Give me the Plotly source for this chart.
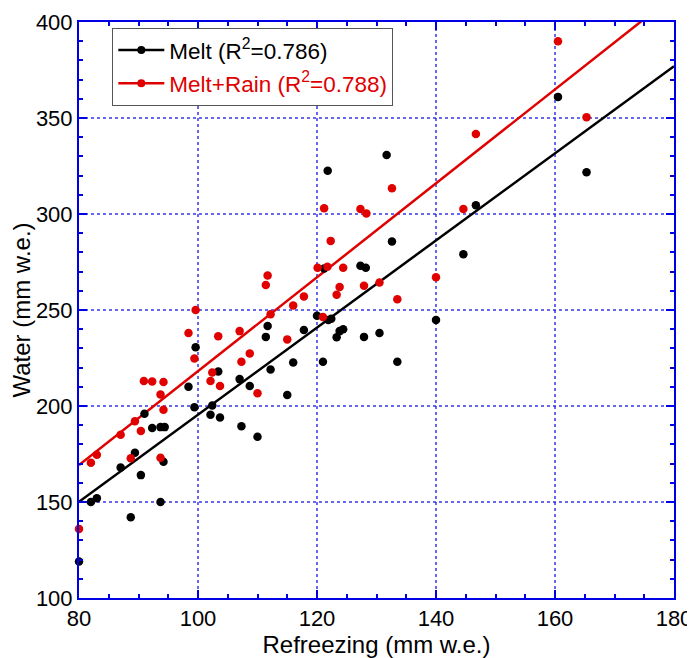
import plotly.graph_objects as go

# Melt (black) points: refreezing (x), water (y)
melt_x = [80, 82, 83, 87, 88.7, 89.4, 90.4, 91, 92.3, 93.7, 94.4, 93.7, 94.2,
          98.4, 99.4, 99.6, 102.1, 102.4, 103.4, 103.7, 107.3, 107, 108.7, 110,
          111.4, 111.7, 112.2, 115, 116, 117.8, 120, 121, 121.9, 122.4, 123.3,
          123.8, 124.4, 127.9, 130.5, 133.5, 140, 121.8, 121.2, 127.3, 128.2,
          131.7, 132.6, 146.7, 144.6, 160.5, 165.3]
melt_y = [119, 150, 152, 168, 142, 175.6, 164, 196, 188.5, 189, 189, 150, 171,
          210, 199.4, 230.6, 195.5, 200.3, 218, 194, 189.5, 214, 210.4, 184,
          236, 241.7, 219, 205.7, 222.6, 239.6, 247, 223, 244.8, 245.5, 235.8,
          239, 240, 236, 238, 223, 244.8, 322.5, 271.6, 273, 272,
          330.7, 285.7, 304.6, 279, 361, 321.8]

# Melt+Rain (red) points
rain_x = [80, 82, 83, 87, 88.7, 89.4, 90.4, 90.9, 92.3, 93.7, 94.2, 94.2, 93.7,
          98.4, 99.6, 99.4, 102.1, 102.4, 103.4, 103.7, 107, 107.3, 108.7, 110,
          112.2, 115, 116, 121, 111.7, 111.4, 117.8, 120.1, 121.75, 121.2, 122.3,
          124.4, 123.8, 123.3, 127.3, 128.3, 127.9, 130.5, 132.6, 133.5, 140,
          144.6, 146.7, 160.5, 165.3]
rain_y = [136, 170.4, 174.6, 185, 172.8, 192, 187, 213, 212.8, 206, 212.5, 198, 173,
          238, 250, 224.7, 213, 217.4, 236.3, 210.4, 239, 223, 227.3, 206.6,
          247.8, 234.7, 252.4, 246.4, 268, 263, 257, 272, 272.5, 303, 286,
          272, 262, 258, 302.6, 300.3, 262.6, 264.3, 313.4, 255.6, 267,
          302.6, 341.7, 390, 350.4]

# Fitted lines (value at x=80 and at x=180)
fit_x = [80, 180]
melt_fit_y = [150.1, 377.0]
rain_fit_y = [169.2, 413.8]

melt_name = "Melt (R<sup>2</sup>=0.786)"
rain_name = "<span style='color:#e00000'>Melt+Rain (R<sup>2</sup>=0.788)</span>"

BLACK = "#000000"
RED = "#e00000"
BLUE = "#0000e6"
FONT = "Liberation Sans, Arial, Helvetica, sans-serif"

fig = go.Figure()
fig.add_trace(go.Scatter(x=fit_x, y=melt_fit_y, mode="lines",
                         line=dict(color=BLACK, width=2.5), showlegend=False, cliponaxis=True))
fig.add_trace(go.Scatter(x=fit_x, y=rain_fit_y, mode="lines",
                         line=dict(color=RED, width=2.5), showlegend=False, cliponaxis=True))
fig.add_trace(go.Scatter(x=melt_x, y=melt_y, mode="markers",
                         marker=dict(color=BLACK, size=8.5), showlegend=False, cliponaxis=False))
fig.add_trace(go.Scatter(x=rain_x, y=rain_y, mode="markers",
                         marker=dict(color=RED, size=8.5), showlegend=False, cliponaxis=False))
# legend entries
fig.add_trace(go.Scatter(x=[None], y=[None], mode="lines+markers", name=melt_name,
                         legendgroup="a",
                         line=dict(color=BLACK, width=2.5), marker=dict(color=BLACK, size=8)))
fig.add_trace(go.Scatter(x=[None], y=[None], mode="lines+markers", name=rain_name,
                         legendgroup="b",
                         line=dict(color=RED, width=2.5), marker=dict(color=RED, size=8)))

axis_common = dict(
    showline=True, linecolor=BLUE, linewidth=2, mirror="ticks",
    ticks="inside", ticklen=8, tickwidth=2, tickcolor=BLUE, automargin=False,
    showgrid=True, gridcolor="rgba(40,40,230,0.7)", gridwidth=1.5, griddash="dot",
    zeroline=False, tickfont=dict(size=22, color="black", family=FONT),
)

fig.update_xaxes(range=[80, 180], dtick=20, tick0=80,
                 minor=dict(ticks="inside", ticklen=4, tickwidth=2, tickcolor=BLUE,
                            dtick=5, showgrid=False),
                 title=dict(text="Refreezing (mm w.e.)", font=dict(size=24, family=FONT, color="black"),
                            standoff=2),
                 **axis_common)
fig.update_yaxes(range=[100, 400], dtick=50, tick0=100,
                 minor=dict(ticks="inside", ticklen=4, tickwidth=2, tickcolor=BLUE,
                            dtick=10, showgrid=False),
                 title=dict(text="Water (mm w.e.)", font=dict(size=24, family=FONT, color="black"),
                            standoff=4),
                 **axis_common)

# the page body has an 8px margin, so the figure is 8px smaller and shifted
fig.update_layout(
    width=687, height=650,
    margin=dict(l=71, r=21, t=14, b=60),
    paper_bgcolor="white", plot_bgcolor="white",
    font=dict(family=FONT, color="black"),
    legend=dict(x=0.056, y=0.99, xanchor="left", yanchor="top",
                bgcolor="white", bordercolor="#555555", borderwidth=1,
                font=dict(size=22.5, family=FONT, color="black"),
                tracegroupgap=1, itemwidth=46),
)

fig.write_html("out.html")
